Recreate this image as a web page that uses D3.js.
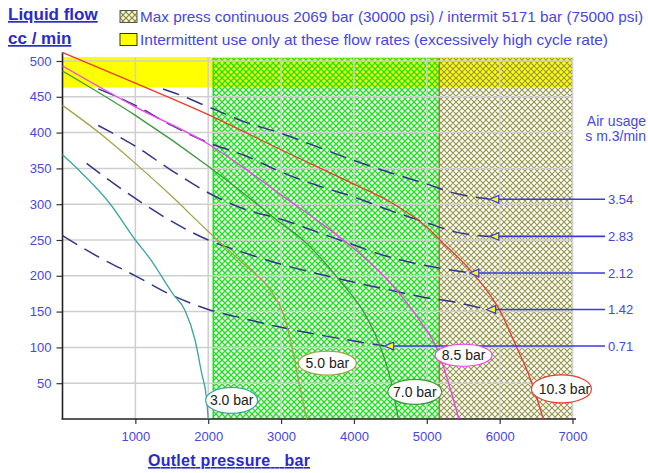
<!DOCTYPE html>
<html>
<head>
<meta charset="utf-8">
<script src="https://cdn.jsdelivr.net/npm/d3@7"></script>
<style>
  html, body { margin: 0; padding: 0; background: #ffffff; overflow: hidden; }
  svg { display: block; font-family: "Liberation Sans", Arial, sans-serif; }
</style>
</head>
<body>
<svg id="chart" width="648" height="473"></svg>
<script>
// ---------- DATA ----------
const xTicks = [1000, 2000, 3000, 4000, 5000, 6000, 7000];
const yTicks = [50, 100, 150, 200, 250, 300, 350, 400, 450, 500];

const pressureNames = ["3.0 bar", "5.0 bar", "7.0 bar", "8.5 bar", "10.3 bar"];
const curve30 = [[0,369],[220,348],[650,301],[1000,250],[1200,224],[1520,174],[1680,152],[1820,110],[1910,64],[1975,30],[2000,0]];
const curve50 = [[0,438],[500,400],[1000,357],[1500,311],[2000,262],[2150,248],[2500,215],[2850,180],[3050,141],[3130,110],[3240,54],[3350,0]];
const curve70 = [[0,486],[1000,424],[2000,353],[2500,314],[2940,278],[3300,250],[3800,194],[4170,143],[4380,96],[4515,50],[4610,0]];
const curve85 = [[0,493],[1000,436],[2000,384],[2500,350],[3000,313],[3500,277],[4000,238],[4500,190],[4900,138],[5150,96],[5300,50],[5440,0]];
const curve103 = [[0,512],[1000,469],[2000,425],[3000,376],[4000,328],[4500,303],[5000,268],[5200,248],[5630,204],[6000,152],[6230,101],[6410,59],[6600,0]];

const airNames = ["3.54", "2.83", "2.12", "1.42", "0.71"];
const air354 = [[1380,461],[1600,453],[2000,436],[2500,415],[3000,399],[3500,380],[4000,361],[4500,344],[5000,328],[5400,315],[5865,307]];
const air283 = [[490,461],[750,450],[1000,438],[1500,410],[2000,386],[2500,368],[3000,345],[3500,326],[4000,310],[4500,291],[5000,274],[5400,261],[5865,255]];
const air212 = [[490,410],[1000,381],[1500,347],[2000,316],[2500,293],[3000,279],[3500,261],[4000,243],[4330,231],[5000,214],[5590,204]];
const air142 = [[330,357],[1000,308],[1500,276],[2000,250],[2500,232],[3000,216],[3500,203],[4000,191],[4500,180],[4900,171],[5450,162],[5820,153]];
const air071 = [[0,256],[500,226],[1000,200],[1500,173],[2000,153],[2500,140],[3000,128],[3500,118],[4000,109],[4420,102]];

const limitContinuous = 2069;   // bar
const limitIntermit = 5171;     // bar
const xMax = 7000;
const highCycleFrom = 463;      // cc/min
const plotTop = 505;            // cc/min

const legendTexts = [
  "Max press continuous 2069 bar (30000 psi) / intermit 5171 bar (75000 psi)",
  "Intermittent use only at these flow rates (excessively high cycle rate)"
];
const airTitle = ["Air usage", "s m.3/min"];

// ---------- DRAWING ----------
const svg = d3.select("#chart");
const x = d3.scaleLinear().domain([0, 7000]).range([62.5, 572.5]);
const y = d3.scaleLinear().domain([0, 512]).range([419, 52.4]);

const defs = svg.append("defs");
function hatch(id, color, bg, sw) {
  const p = defs.append("pattern").attr("id", id).attr("patternUnits", "userSpaceOnUse")
    .attr("width", 6).attr("height", 6);
  if (bg) p.append("rect").attr("width", 6).attr("height", 6).attr("fill", bg);
  p.append("path").attr("d", "M0,0L6,6M6,0L0,6M-3,3L3,9M3,-3L9,3M-3,3L3,-3M3,9L9,3")
    .attr("stroke", color).attr("stroke-width", sw).attr("fill", "none");
}
hatch("hGreen", "#1fe01f", null, 1.4);
hatch("hOlive", "#949446", null, 1.15);
hatch("hOliveIcon", "#8a8a3a", "#f4f4d8", 1.2);

const blue = "#4646e6";

// yellow band
svg.append("rect").attr("x", x(0)).attr("y", y(plotTop))
  .attr("width", x(xMax) - x(0)).attr("height", y(highCycleFrom) - y(plotTop))
  .attr("fill", "#ffff00");

// hatched zones
svg.append("rect").attr("x", x(limitContinuous)).attr("y", y(plotTop))
  .attr("width", x(limitIntermit) - x(limitContinuous)).attr("height", y(0) - y(plotTop))
  .attr("fill", "url(#hGreen)");
svg.append("rect").attr("x", x(limitIntermit)).attr("y", y(plotTop))
  .attr("width", x(xMax) - x(limitIntermit)).attr("height", y(0) - y(plotTop))
  .attr("fill", "url(#hOlive)");
svg.append("line").attr("x1", x(limitContinuous)).attr("x2", x(limitContinuous))
  .attr("y1", y(plotTop)).attr("y2", y(0)).attr("stroke", "#22dd22").attr("stroke-width", 1.5);
svg.append("line").attr("x1", x(limitIntermit)).attr("x2", x(limitIntermit))
  .attr("y1", y(plotTop)).attr("y2", y(0)).attr("stroke", "#8a8a3a").attr("stroke-width", 1.5);
svg.append("line").attr("x1", x(0)).attr("x2", x(xMax))
  .attr("y1", y(plotTop)).attr("y2", y(plotTop)).attr("stroke", "#eaea9a").attr("stroke-width", 1);

// grid
const grid = svg.append("g").attr("stroke", "#cfcfcf").attr("stroke-width", 1.5);
grid.selectAll(".gx").data(xTicks).join("line")
  .attr("x1", d => x(d)).attr("x2", d => x(d)).attr("y1", y(plotTop)).attr("y2", y(0));
grid.selectAll(".gy").data(yTicks).join("line")
  .attr("x1", x(0)).attr("x2", x(xMax)).attr("y1", d => y(d)).attr("y2", d => y(d));

// axes
const xAxis = svg.append("g").attr("transform", `translate(0,${y(0)})`)
  .call(d3.axisBottom(x).tickValues(xTicks).tickSize(5).tickPadding(8).tickFormat(d3.format("d")));
const yAxis = svg.append("g").attr("transform", `translate(${x(0)},0)`)
  .call(d3.axisLeft(y).tickValues(yTicks).tickSize(6).tickPadding(5).tickFormat(d3.format("d")));
[xAxis, yAxis].forEach(a => {
  a.select(".domain").remove();
  a.selectAll(".tick line").attr("stroke", "#333").attr("stroke-width", 1.2);
  a.selectAll(".tick text").attr("fill", blue).attr("font-size", 13)
    .attr("font-family", "Liberation Sans, Arial, sans-serif");
});
svg.append("line").attr("x1", x(0)).attr("x2", x(0)).attr("y1", y(512)).attr("y2", y(0))
  .attr("stroke", "#222").attr("stroke-width", 1.6);
svg.append("line").attr("x1", x(0) - 1).attr("x2", 576).attr("y1", y(0)).attr("y2", y(0))
  .attr("stroke", "#222").attr("stroke-width", 1.6);

// dashed air usage lines
const line = d3.line().x(d => x(d[0])).y(d => y(d[1])).curve(d3.curveMonotoneX);
const airSeries = [air354, air283, air212, air142, air071];
svg.append("g").selectAll("path").data(airSeries).join("path")
  .attr("d", line).attr("fill", "none").attr("stroke", "#34348a")
  .attr("stroke-width", 1.5).attr("stroke-dasharray", "17,8.5");

// pressure curves
const pressureSeries = [curve30, curve50, curve70, curve85, curve103];
const pColors = ["#3aa5a0", "#a6a04a", "#3a9a3a", "#f040f0", "#ee3a2a"];
svg.append("g").selectAll("path").data(pressureSeries).join("path")
  .attr("d", line).attr("fill", "none").attr("stroke", (d, i) => pColors[i]).attr("stroke-width", 1.3);

// arrows to air usage labels
const arrows = svg.append("g");
airSeries.forEach((s, i) => {
  const tip = s[s.length - 1];
  const tx = x(tip[0]), ty = y(tip[1]);
  arrows.append("line").attr("x1", tx + 8).attr("x2", 605).attr("y1", ty).attr("y2", ty)
    .attr("stroke", "#3a3ae0").attr("stroke-width", 1.6);
  arrows.append("path").attr("d", `M${tx},${ty}L${tx + 9},${ty - 3.8}L${tx + 9},${ty + 3.8}Z`)
    .attr("fill", "#ffff00").attr("stroke", "#3a3ae0").attr("stroke-width", 1.2);
  arrows.append("text").attr("x", 608).attr("y", ty).attr("dy", "0.36em")
    .attr("font-size", 13).attr("fill", blue).text(airNames[i]);
});

// pressure labels (ellipses)
const labelAnchors = [[2322, 26], [3635, 78], [4835, 38], [5505, 89], [6848, 42]];
const labelRx = [26, 29, 27, 28.5, 30];
const labelRy = [13, 12, 12.5, 11, 14];
const lab = svg.append("g");
pressureNames.forEach((name, i) => {
  const cx = x(labelAnchors[i][0]), cy = y(labelAnchors[i][1]);
  lab.append("ellipse").attr("cx", cx).attr("cy", cy).attr("rx", labelRx[i]).attr("ry", labelRy[i])
    .attr("fill", "#ffffff").attr("stroke", pColors[i]).attr("stroke-width", 1.2);
  lab.append("text").attr("x", cx + (i === 4 ? 3 : 0)).attr("y", cy).attr("dy", "0.36em")
    .attr("text-anchor", "middle").attr("font-size", 14).attr("fill", "#222").text(name);
});

// Air usage title
svg.append("text").attr("x", 646).attr("y", 126).attr("text-anchor", "end")
  .attr("font-size", 14).attr("fill", blue).text(airTitle[0]);
svg.append("text").attr("x", 646).attr("y", 141).attr("text-anchor", "end")
  .attr("font-size", 14).attr("fill", blue).text(airTitle[1]);

// titles
const titleBlue = "#2a2acc";
svg.append("text").attr("x", 8).attr("y", 20).attr("font-size", 17).attr("font-weight", "bold")
  .attr("fill", titleBlue).attr("text-decoration", "underline").text("Liquid flow");
svg.append("text").attr("x", 8).attr("y", 44).attr("font-size", 17).attr("font-weight", "bold")
  .attr("fill", titleBlue).attr("text-decoration", "underline").text("cc / min");
svg.append("text").attr("x", 148).attr("y", 466).attr("font-size", 16).attr("font-weight", "bold")
  .attr("fill", titleBlue).attr("text-decoration", "underline")
  .attr("textLength", 162).attr("lengthAdjust", "spacing")
  .style("white-space", "pre").text("Outlet pressure   bar");

// legend
svg.append("rect").attr("x", 120).attr("y", 10.5).attr("width", 17).attr("height", 12)
  .attr("fill", "url(#hOliveIcon)").attr("stroke", "#555").attr("stroke-width", 1);
svg.append("rect").attr("x", 120).attr("y", 33.5).attr("width", 17).attr("height", 12)
  .attr("fill", "#ffff00").attr("stroke", "#333").attr("stroke-width", 1);
svg.append("text").attr("x", 140).attr("y", 22).attr("font-size", 14.5).attr("fill", blue)
  .attr("textLength", 503).attr("lengthAdjust", "spacingAndGlyphs").text(legendTexts[0]);
svg.append("text").attr("x", 140).attr("y", 45).attr("font-size", 14.5).attr("fill", blue)
  .attr("textLength", 468).attr("lengthAdjust", "spacingAndGlyphs").text(legendTexts[1]);
</script>
</body>
</html>
